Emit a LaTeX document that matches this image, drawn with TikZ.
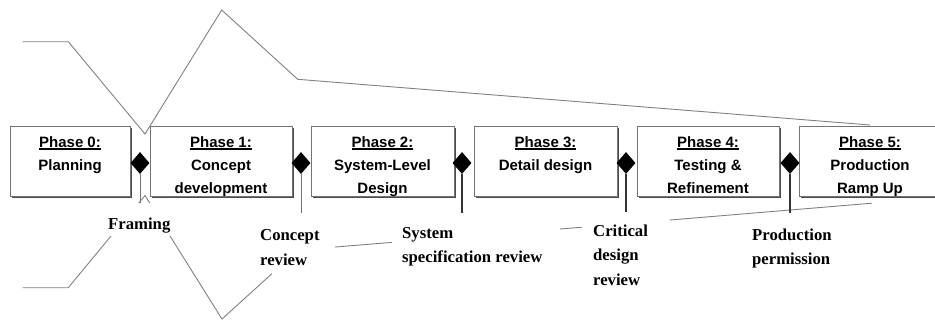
\documentclass[tikz,border=0pt]{standalone}
\usepackage{fontspec}
\setmainfont{Liberation Serif}
\newfontfamily\boxfont{Liberation Sans}
\usetikzlibrary{shapes.geometric,shadows}
\newcommand\phul[1]{\setbox0\hbox{#1}\rlap{\rule[-2.3pt]{\wd0}{1.3pt}}\box0}
\begin{document}
\begin{tikzpicture}[x=1pt,y=-1pt,
  zig/.style={draw=black!50, line width=0.9pt},
  phasebox/.style={draw=black!55, line width=0.8pt, fill=white, inner sep=0pt, anchor=north west,
    general shadow={fill=black!70, shadow xshift=1.4pt, shadow yshift=-1.6pt}},
  boxtext/.style={font=\boxfont\bfseries\fontsize{15}{23}\selectfont, align=center, inner sep=0pt, anchor=north},
  dmd/.style={diamond, fill=black, draw=none, inner sep=0pt, minimum width=19pt, minimum height=22pt},
  stemlight/.style={draw=black!55, line width=0.9pt},
  stemdark/.style={draw=black!80, line width=1.5pt},
  lbl/.style={font=\bfseries\fontsize{16.7}{24.5}\selectfont, align=left, inner sep=0pt, anchor=north west}]
\useasboundingbox (0,0) rectangle (935,322);
\clip (0,0) rectangle (935,322);
% upper outline
\draw[zig] (22.7,41.7) -- (68.3,41.7) -- (145,134) -- (221.7,10) -- (297.7,79.3) -- (870,125);
% lower outline (mirror, interrupted by labels)
\draw[zig] (22.7,287.7) -- (68.3,287.7) -- (111,236);
\draw[zig] (138.8,203) -- (145,195.5) -- (149.7,203);
\draw[zig] (170,236) -- (222,319) -- (272,273.6);
\draw[zig] (335,247) -- (392,242.4);
\draw[zig] (560,229) -- (582,227.2);
\draw[zig] (670,220) -- (872,203.2);
% phase boxes
\node[phasebox, minimum width=120pt, minimum height=70pt] (b0) at (10,126) {};
\node[phasebox, minimum width=142pt, minimum height=70pt] (b1) at (150,126) {};
\node[phasebox, minimum width=143pt, minimum height=70pt] (b2) at (311,126) {};
\node[phasebox, minimum width=143pt, minimum height=70pt] (b3) at (474,126) {};
\node[phasebox, minimum width=142pt, minimum height=70pt] (b4) at (637,126) {};
\node[phasebox, minimum width=142pt, minimum height=70pt] (b5) at (799,126) {};
\node[boxtext] (t0) at (70,136.3) {\phul{Phase 0:}\\Planning};
\node[boxtext] (t1) at (221,136.3) {\phul{Phase 1:}\\Concept\\development};
\node[boxtext] (t2) at (382.5,136.3) {\phul{Phase 2:}\\System-Level\\Design};
\node[boxtext] (t3) at (545.5,136.3) {\phul{Phase 3:}\\Detail design};
\node[boxtext] (t4) at (708,136.3) {\phul{Phase 4:}\\Testing \&\\Refinement};
\node[boxtext] (t5) at (870,136.3) {\phul{Phase 5:}\\Production\\Ramp Up};
% gates
\node[dmd] (d0) at (140,163) {};
\node[dmd] (d1) at (301,163) {};
\node[dmd] (d2) at (462,163) {};
\node[dmd] (d3) at (626,163) {};
\node[dmd] (d4) at (790,163) {};
\coordinate (e0) at (140,203);
\coordinate (e1) at (301,213);
\coordinate (e2) at (462,213);
\coordinate (e3) at (626,212);
\coordinate (e4) at (790,213);
\draw[stemlight] (d0.south) -- (e0);
\draw[stemlight] (d1.south) -- (e1);
\draw[stemdark] (d2.south) -- (e2);
\draw[stemdark] (d3.south) -- (e3);
\draw[stemdark] (d4.south) -- (e4);
% labels
\node[lbl] (l0) at (108,217.9) {Framing};
\node[lbl] (l1) at (260,229.6) {Concept\\review};
\node[lbl] (l2) at (402,227.1) {System\\specification review};
\node[lbl] (l3) at (593,224.6) {Critical\\design\\review};
\node[lbl] (l4) at (752,228.6) {Production\\permission};
\end{tikzpicture}
\end{document}
